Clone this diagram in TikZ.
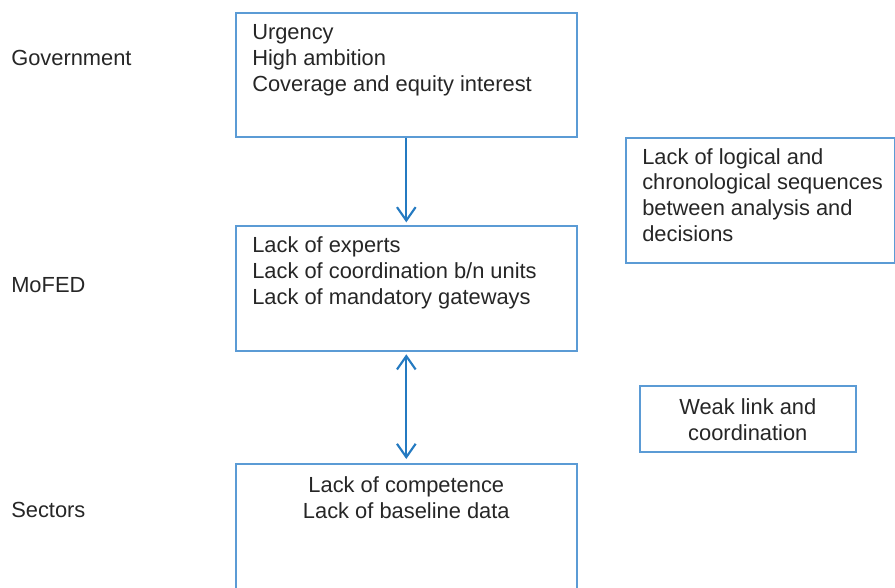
\documentclass[tikz,border=0pt]{standalone}
\usepackage{fontspec}
\setmainfont{Liberation Sans}
\usetikzlibrary{arrows.meta}

\definecolor{boxblue}{RGB}{91,155,213}
\definecolor{arrowblue}{RGB}{36,122,193}
\newdimen\px
\px=0.75pt

\tikzset{
  panel/.style={draw=boxblue, line width=1.2pt, inner sep=0pt, anchor=north west},
  words/.style={inner sep=0pt, text=black!85, font=\fontsize{16.4}{19.2}\selectfont},
  link/.style={draw=arrowblue, line width=1.6pt},
  barb/.tip={Straight Barb[length=10pt, width=14pt, line width=1.6pt]}
}

\begin{document}
\begin{tikzpicture}[x=0.75pt, y=-0.75pt]
                \useasboundingbox (0,0) rectangle (895,587);
                \clip (0,0) rectangle (895,587);
                % level names
                \node [words, anchor=base west] (lgov) at (11,65) {Government};
                \node [words, anchor=base west] (lmofed) at (11,292) {MoFED};
                \node [words, anchor=base west] (lsect) at (11,517) {Sectors};
                % boxes
                \node [panel, minimum width=341\px, minimum height=124\px] (gov) at (235,12) {};
                \node [panel, minimum width=341\px, minimum height=125\px] (mofed) at (235,225) {};
                \node [panel, minimum width=341\px, minimum height=140\px] (sect) at (235,463) {};
                \node [panel, minimum width=269\px, minimum height=125\px] (seq) at (625,137) {};
                \node [panel, minimum width=216\px, minimum height=66\px] (weak) at (639,385) {};
                % box texts (anchored on the last line)
                \node [words, anchor=base west, align=left] (govtxt) at ([shift={(17,79)}]gov.north west)
                      {Urgency\\High ambition\\Coverage and equity interest};
                \node [words, anchor=base west, align=left] (mofedtxt) at ([shift={(17,79)}]mofed.north west)
                      {Lack of experts\\Lack of coordination b/n units\\Lack of mandatory gateways};
                \node [words, anchor=base, align=center] (secttxt) at ([shift={(0,55)}]sect.north)
                      {Lack of competence\\Lack of baseline data};
                \node [words, anchor=base west, align=left] (seqtxt) at ([shift={(17,104)}]seq.north west)
                      {Lack of logical and\\chronological sequences\\between analysis and\\decisions};
                \node [words, anchor=base, align=center] (weaktxt) at ([shift={(0,55)}]weak.north)
                      {Weak link and\\coordination};
                % arrows
                \draw [link, -{barb}, shorten >=2pt] (gov.south) -- (mofed.north);
                \draw [link, {barb}-{barb}, shorten <=2pt, shorten >=3pt] (mofed.south) -- (sect.north);
            \end{tikzpicture}
\end{document}
